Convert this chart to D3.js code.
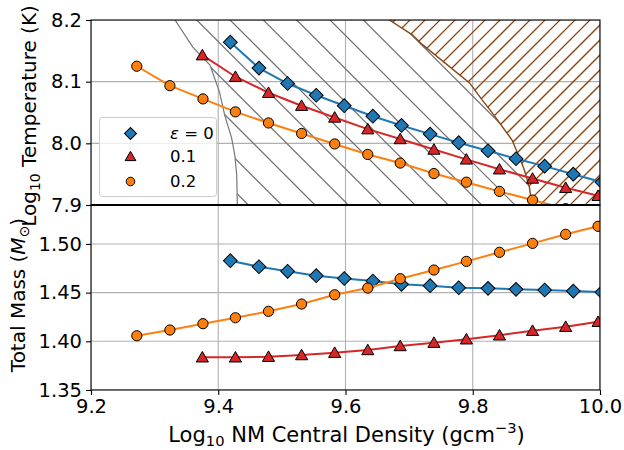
<!DOCTYPE html>
<html>
<head>
<meta charset="utf-8">
<script src="https://cdn.jsdelivr.net/npm/d3@7"></script>
<style>
  body { margin: 0; background: #fff; }
  svg { display: block; }
  text { font-family: "DejaVu Sans", sans-serif; }
</style>
</head>
<body>
<svg id="chart" width="624" height="450"></svg>
<script>
// ---- data ----
const densityBlue = [9.419, 9.464, 9.509, 9.554, 9.598, 9.643, 9.688, 9.733, 9.778, 9.824, 9.868, 9.913, 9.958, 10.003];
const tempBlue    = [8.164, 8.122, 8.097, 8.078, 8.061, 8.044, 8.029, 8.015, 8.001, 7.988, 7.975, 7.963, 7.950, 7.937];
const massBlue    = [1.4828, 1.4766, 1.4719, 1.4674, 1.4645, 1.4619, 1.4585, 1.4571, 1.4550, 1.4544, 1.4534, 1.4527, 1.4516, 1.4505];

const densityRed = [9.375, 9.427, 9.479, 9.531, 9.583, 9.635, 9.686, 9.739, 9.790, 9.842, 9.894, 9.946, 9.997];
const tempRed    = [8.143, 8.108, 8.082, 8.061, 8.042, 8.023, 8.007, 7.990, 7.974, 7.958, 7.943, 7.928, 7.915];
const massRed    = [1.3836, 1.3836, 1.3842, 1.3859, 1.3883, 1.3911, 1.3952, 1.3986, 1.4021, 1.4062, 1.4109, 1.4150, 1.4201];

const densityOrange = [9.272, 9.324, 9.376, 9.427, 9.479, 9.531, 9.583, 9.635, 9.686, 9.739, 9.790, 9.842, 9.894, 9.946, 9.997];
const tempOrange    = [8.125, 8.0935, 8.072, 8.051, 8.033, 8.016, 7.999, 7.982, 7.968, 7.951, 7.937, 7.922, 7.908, 7.894, 7.881];
const massOrange    = [1.4057, 1.4116, 1.4181, 1.4242, 1.4308, 1.4383, 1.4478, 1.4547, 1.4643, 1.4732, 1.4821, 1.4914, 1.5006, 1.5099, 1.5181];

// boundary of gray hatched region (left edge), in (density, logT)
const grayBoundaryX = [9.332, 9.360, 9.387, 9.402, 9.410, 9.421, 9.426, 9.429, 9.430];
const grayBoundaryY = [8.200, 8.156, 8.127, 8.083, 8.046, 8.009, 7.981, 7.949, 7.900];
// boundary of brown hatched region (left edge)
const brownBoundaryX = [9.669, 9.705, 9.721, 9.795, 9.815, 9.831, 9.862, 9.873, 9.881, 9.889, 9.893];
const brownBoundaryY = [8.200, 8.176, 8.160, 8.098, 8.070, 8.049, 8.005, 7.978, 7.957, 7.929, 7.900];

const xTicks = [9.2, 9.4, 9.6, 9.8, 10.0];
const xTickLabels = ["9.2", "9.4", "9.6", "9.8", "10.0"];
const tempTicks = [7.9, 8.0, 8.1, 8.2];
const tempTickLabels = ["7.9", "8.0", "8.1", "8.2"];
const massTicks = [1.35, 1.40, 1.45, 1.50];
const massTickLabels = ["1.35", "1.40", "1.45", "1.50"];

const seriesNames = ["\u03b5 = 0", "0.1", "0.2"];
const colors = ["#1f77b4", "#d62728", "#ff7f0e"];

// ---- layout ----
const L = 91, R = 600, T1 = 20, B1 = 205, T2 = 205, B2 = 390;
const fs = 19.5, fsLab = 21, fsYLab = 20;

const svg = d3.select("#chart");
svg.append("rect").attr("width", 624).attr("height", 450).attr("fill", "#fff");

const x = d3.scaleLinear().domain([9.2, 10.0]).range([L, R]);
const yT = d3.scaleLinear().domain([7.9, 8.2]).range([B1, T1]);
const yM = d3.scaleLinear().domain([1.35, 1.54]).range([B2, T2]);

const defs = svg.append("defs");
defs.append("clipPath").attr("id", "clipTop").append("rect")
  .attr("x", L).attr("y", T1).attr("width", R - L).attr("height", B1 - T1);
defs.append("clipPath").attr("id", "clipBot").append("rect")
  .attr("x", L).attr("y", T2).attr("width", R - L).attr("height", B2 - T2);

// regions
const grayPts = grayBoundaryX.map((d, i) => [x(d), yT(grayBoundaryY[i])]);
const brownPts = brownBoundaryX.map((d, i) => [x(d), yT(brownBoundaryY[i])]);
const grayPoly = grayPts.concat(brownPts.slice().reverse());
const brownPoly = brownPts.concat([[R + 5, B1], [R + 5, T1 - 5]]);
defs.append("clipPath").attr("id", "clipGray").append("path")
  .attr("d", "M" + grayPoly.map(p => p.join(",")).join("L") + "Z");
defs.append("clipPath").attr("id", "clipBrown").append("path")
  .attr("d", "M" + brownPoly.map(p => p.join(",")).join("L") + "Z");

// grid
function grid(g, yScale, yTicks, top, bottom) {
  g.selectAll("line.vx").data(xTicks).join("line").attr("class", "vx")
    .attr("x1", d => x(d)).attr("x2", d => x(d)).attr("y1", top).attr("y2", bottom)
    .attr("stroke", "#b0b0b0").attr("stroke-width", 1.1);
  g.selectAll("line.hy").data(yTicks).join("line").attr("class", "hy")
    .attr("x1", L).attr("x2", R).attr("y1", d => yScale(d)).attr("y2", d => yScale(d))
    .attr("stroke", "#b0b0b0").attr("stroke-width", 1.1);
}
grid(svg.append("g").attr("clip-path", "url(#clipTop)"), yT, tempTicks, T1, B1);
grid(svg.append("g").attr("clip-path", "url(#clipBot)"), yM, massTicks, T2, B2);

// hatching
const topG = svg.append("g").attr("clip-path", "url(#clipTop)");
const gh = topG.append("g").attr("clip-path", "url(#clipGray)");
const grayOffsets = d3.range(-10, 30).map(k => 176.7 + 33.33 * k);
gh.selectAll("line").data(grayOffsets).join("line")
  .attr("x1", c => c).attr("y1", 0).attr("x2", c => c + 450).attr("y2", 450)
  .attr("stroke", "#6e6e6e").attr("stroke-width", 1.2);
const bh = topG.append("g").attr("clip-path", "url(#clipBrown)");
const brownOffsets = d3.range(-10, 60).map(k => 415 + 15 * k);
bh.selectAll("line").data(brownOffsets).join("line")
  .attr("x1", c => c).attr("y1", 0).attr("x2", c => c - 450).attr("y2", 450)
  .attr("stroke", "#8b4513").attr("stroke-width", 1.25);
topG.append("path").attr("d", d3.line()(grayPts))
  .attr("fill", "none").attr("stroke", "#777").attr("stroke-width", 1.2);
topG.append("path").attr("d", d3.line()(brownPts))
  .attr("fill", "none").attr("stroke", "#8b4513").attr("stroke-width", 1.4);

// markers
function markerPath(i, s) {
  return d3.symbol().type([d3.symbolSquare, d3.symbolTriangle, d3.symbolCircle][i]).size(s)();
}
const markerSizes = [95, 64, 82];
function drawSeries(g, xs, ys, yScale, i) {
  const pts = xs.map((d, k) => [x(d), yScale(ys[k])]);
  g.append("path").attr("d", d3.line()(pts)).attr("fill", "none")
    .attr("stroke", colors[i]).attr("stroke-width", 2);
  g.selectAll("path.m" + i).data(pts).join("path").attr("class", "m" + i)
    .attr("d", markerPath(i, markerSizes[i]))
    .attr("transform", p => `translate(${p[0]},${p[1] + (i === 1 ? 1.2 : 0)})` + (i === 0 ? " rotate(45)" : ""))
    .attr("fill", colors[i]).attr("stroke", "#000").attr("stroke-width", 1);
}
const topS = svg.append("g").attr("clip-path", "url(#clipTop)");
drawSeries(topS, densityBlue, tempBlue, yT, 0);
drawSeries(topS, densityRed, tempRed, yT, 1);
drawSeries(topS, densityOrange, tempOrange, yT, 2);
const botS = svg.append("g").attr("clip-path", "url(#clipBot)");
drawSeries(botS, densityBlue, massBlue, yM, 0);
drawSeries(botS, densityRed, massRed, yM, 1);
drawSeries(botS, densityOrange, massOrange, yM, 2);

// legend
const lg = svg.append("g");
lg.append("rect").attr("x", 99.5).attr("y", 117.5).attr("width", 117).attr("height", 79).attr("rx", 3)
  .attr("fill", "#fff").attr("fill-opacity", 0.8).attr("stroke", "#cccccc").attr("stroke-width", 1);
const legY = [133.5, 156.5, 181.5];
seriesNames.forEach((name, i) => {
  lg.append("path").attr("d", markerPath(i, [72, 50, 58][i]))
    .attr("transform", `translate(130.5,${legY[i] + (i === 1 ? 1 : 0)})` + (i === 0 ? " rotate(45)" : ""))
    .attr("fill", colors[i]).attr("stroke", "#000").attr("stroke-width", 1);
  const t = lg.append("text").attr("x", 170).attr("y", legY[i]).attr("dy", "0.36em")
    .attr("font-size", 16.5).attr("fill", "#000");
  if (i === 0) {
    t.append("tspan").attr("font-style", "italic").text("\u03b5");
    t.append("tspan").text(" = 0");
  } else t.text(name);
});

// axes
function styleAxis(g) {
  g.selectAll(".domain").remove();
  g.selectAll(".tick line").attr("stroke", "#000").attr("stroke-width", 1.1);
  g.selectAll(".tick text").attr("font-size", fs).attr("fill", "#000")
    .attr("font-family", "DejaVu Sans");
}
const axT = svg.append("g").attr("transform", `translate(${L},0)`)
  .call(d3.axisLeft(yT).tickValues(tempTicks).tickFormat((d, i) => tempTickLabels[i]).tickSize(5).tickPadding(4));
styleAxis(axT);
const axM = svg.append("g").attr("transform", `translate(${L},0)`)
  .call(d3.axisLeft(yM).tickValues(massTicks).tickFormat((d, i) => massTickLabels[i]).tickSize(5).tickPadding(4));
styleAxis(axM);
const axX = svg.append("g").attr("transform", `translate(0,${B2})`)
  .call(d3.axisBottom(x).tickValues(xTicks).tickFormat((d, i) => xTickLabels[i]).tickSize(5).tickPadding(4));
styleAxis(axX);

// spines
const sp = svg.append("g").attr("fill", "none").attr("stroke", "#000").attr("stroke-width", 1.1);
sp.append("rect").attr("x", L).attr("y", T1).attr("width", R - L).attr("height", B1 - T1);
sp.append("rect").attr("x", L).attr("y", T2).attr("width", R - L).attr("height", B2 - T2);
sp.append("line").attr("x1", L).attr("x2", R).attr("y1", B1).attr("y2", B1).attr("stroke-width", 1.8);

// axis labels
const xl = svg.append("text").attr("x", (L + R) / 2 + 1).attr("y", 442).attr("text-anchor", "middle")
  .attr("font-size", fsLab).attr("fill", "#000");
xl.append("tspan").text("Log");
xl.append("tspan").attr("font-size", fsLab * 0.7).attr("dy", 4).text("10");
xl.append("tspan").attr("dy", -4).text(" NM Central Density (gcm");
xl.append("tspan").attr("font-size", fsLab * 0.7).attr("dy", -9).text("\u22123");
xl.append("tspan").attr("dy", 9).text(")");

const yl1 = svg.append("text").attr("transform", `translate(36,116) rotate(-90)`)
  .attr("text-anchor", "middle").attr("font-size", fsYLab).attr("fill", "#000");
yl1.append("tspan").text("Log");
yl1.append("tspan").attr("font-size", fsYLab * 0.7).attr("dy", 4).text("10");
yl1.append("tspan").attr("dy", -4).text(" Temperature (K)");

const yl2 = svg.append("text").attr("transform", `translate(25,295) rotate(-90)`)
  .attr("text-anchor", "middle").attr("font-size", fsYLab).attr("fill", "#000");
yl2.append("tspan").text("Total Mass (");
yl2.append("tspan").attr("font-style", "italic").text("M");
yl2.append("tspan").attr("font-size", fsYLab * 0.7).attr("dy", 4).text("\u2299");
yl2.append("tspan").attr("dy", -4).text(")");
</script>
</body>
</html>
